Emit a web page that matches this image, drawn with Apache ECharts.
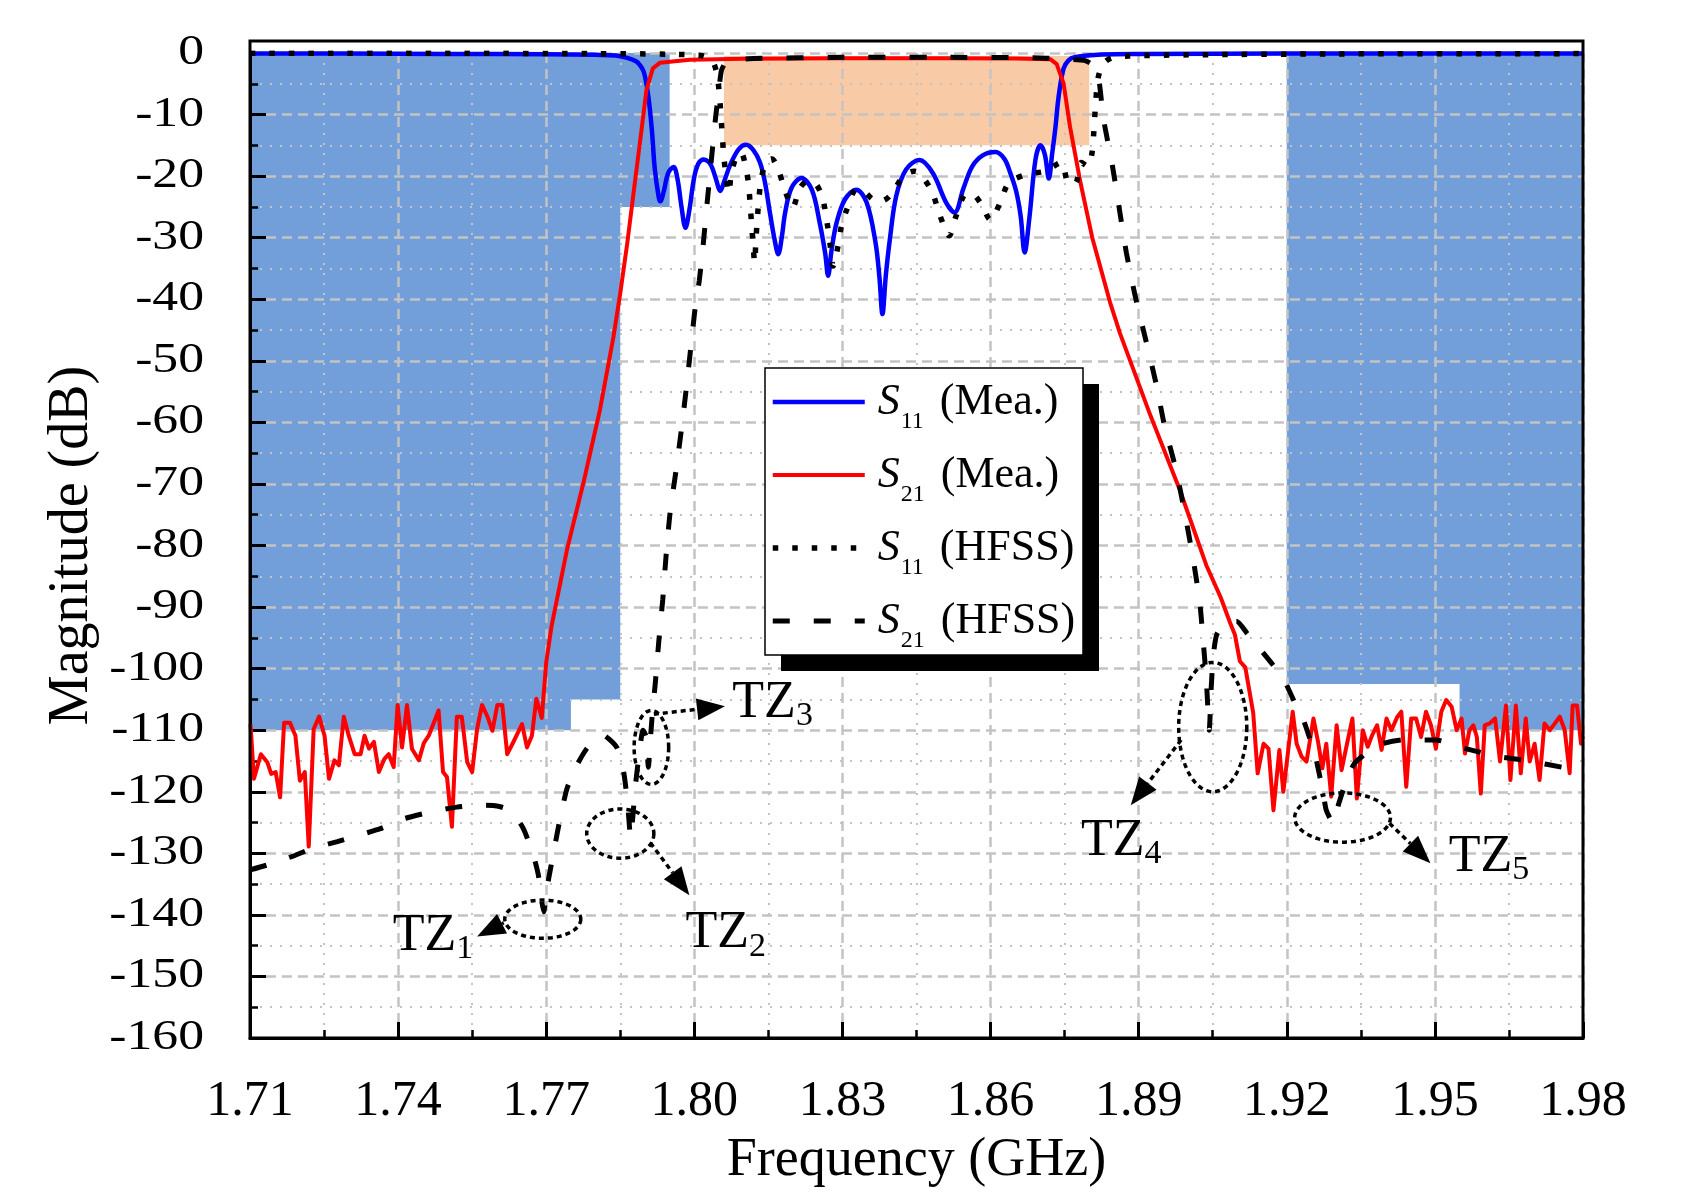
<!DOCTYPE html>
<html><head><meta charset="utf-8">
<script src="https://cdn.jsdelivr.net/npm/echarts@6/dist/echarts.min.js"></script>
<style>html,body{margin:0;padding:0;background:#fff}#c{width:1689px;height:1193px}</style>
</head><body><div id="c"></div>
<script>
// ---------------- data (GHz, dB) ----------------
const xTickLabels = ['1.71','1.74','1.77','1.80','1.83','1.86','1.89','1.92','1.95','1.98'];
const yTickValues = [0,-10,-20,-30,-40,-50,-60,-70,-80,-90,-100,-110,-120,-130,-140,-150,-160];
const yTickLabels = ['0','-10','-20','-30','-40','-50','-60','-70','-80','-90','-100','-110','-120','-130','-140','-150','-160'];

const s11Mea = [[1.71,-0.1],[1.73,-0.1],[1.75,-0.15],[1.77,-0.2],[1.78,-0.3],[1.784,-0.4],[1.786,-0.7],[1.7883,-1.4],[1.7895,-2.6],[1.790,-3.8],[1.7907,-7.1],[1.7914,-12.5],[1.792,-18.9],[1.7928,-23.5],[1.7931,-24.1],[1.7938,-22.5],[1.7947,-19.5],[1.7958,-18.5],[1.7966,-20.5],[1.7974,-25],[1.7982,-28.4],[1.799,-25.5],[1.7999,-20.5],[1.8008,-18],[1.8019,-17.3],[1.8029,-17.7],[1.8036,-18.6],[1.8045,-20.8],[1.8052,-22.4],[1.8062,-20.5],[1.8073,-18.1],[1.809,-15.6],[1.8105,-14.9],[1.812,-15.8],[1.8133,-17.8],[1.8143,-21],[1.8153,-25.9],[1.8163,-30.5],[1.8170,-32.7],[1.8177,-30],[1.8184,-25.9],[1.8197,-21.9],[1.8217,-20.3],[1.8238,-22.2],[1.8254,-27.6],[1.8265,-32.5],[1.8271,-36.2],[1.8278,-32],[1.8288,-27.6],[1.8305,-23.8],[1.8328,-22.2],[1.8349,-24.3],[1.8367,-30.8],[1.8375,-36.5],[1.8381,-42.4],[1.8388,-36],[1.8396,-30.3],[1.8409,-23.2],[1.8429,-18.9],[1.8456,-17.4],[1.8483,-19.5],[1.8510,-24.3],[1.8527,-25.9],[1.8545,-22],[1.8563,-18.4],[1.8585,-16.6],[1.8610,-16.1],[1.8628,-17.2],[1.8640,-19.5],[1.8652,-22.5],[1.8661,-26.5],[1.8669,-32.4],[1.8679,-26.5],[1.8691,-17.3],[1.8701,-15.0],[1.8710,-16.5],[1.8718,-20.4],[1.8725,-16.2],[1.8731,-12.4],[1.8738,-7],[1.8748,-2.5],[1.8758,-1.2],[1.877,-0.7],[1.8826,-0.25],[1.89,-0.15],[1.92,-0.1],[1.95,-0.1],[1.98,-0.1]];

const s21Mea = [[1.7101,-109],[1.7108,-117.9],[1.7122,-113.9],[1.7135,-115.2],[1.7143,-117.1],[1.7152,-116.8],[1.7161,-120.9],[1.7169,-108.8],[1.7181,-108.8],[1.7192,-110.9],[1.7201,-118.2],[1.7211,-116.8],[1.7219,-128.9],[1.7229,-109.8],[1.7240,-107.8],[1.7251,-110.9],[1.7260,-117.9],[1.7271,-114.9],[1.7280,-115.7],[1.7290,-107.8],[1.7300,-110.9],[1.7312,-113.9],[1.7324,-113.9],[1.7332,-110.9],[1.7341,-113.0],[1.7351,-111.9],[1.7361,-116.8],[1.7372,-114.7],[1.7381,-113.9],[1.7391,-116],[1.7399,-105.9],[1.7408,-112.8],[1.7418,-105.9],[1.7428,-113.0],[1.7442,-114.9],[1.7452,-112.1],[1.7462,-110.9],[1.7482,-106.8],[1.7491,-116.8],[1.7499,-117.6],[1.7509,-125.7],[1.7519,-107.8],[1.7529,-107.8],[1.7540,-115.2],[1.7550,-116.8],[1.7560,-109.8],[1.7570,-105.9],[1.7581,-107.8],[1.7591,-110.1],[1.7601,-105.9],[1.7611,-105.9],[1.7621,-113.9],[1.7633,-112.0],[1.7651,-109.0],[1.7661,-112.8],[1.7671,-110.9],[1.7680,-104.9],[1.7691,-108.0],[1.7700,-99],[1.7711,-93],[1.7742,-80.7],[1.7776,-69.6],[1.7809,-57.9],[1.7836,-46.2],[1.7850,-39],[1.7864,-31],[1.7876,-23.3],[1.7893,-12.5],[1.7903,-6],[1.7916,-2.5],[1.793,-1.6],[1.7991,-1.1],[1.81,-0.95],[1.83,-0.85],[1.85,-0.85],[1.865,-0.9],[1.8721,-1.0],[1.8734,-1.8],[1.8748,-5],[1.8761,-12],[1.8782,-21],[1.8806,-30],[1.8830,-37],[1.8842,-40.5],[1.8862,-45.5],[1.8922,-58.5],[1.8983,-70.9],[1.9037,-83.2],[1.9066,-88.4],[1.9085,-92.5],[1.9095,-94.5],[1.9105,-98.8],[1.9116,-99.8],[1.9132,-107.2],[1.9141,-117],[1.9153,-112.2],[1.9163,-113.0],[1.9173,-123.0],[1.9185,-113.2],[1.9193,-120.0],[1.9203,-113.2],[1.9212,-107.0],[1.9220,-112.2],[1.9230,-114.3],[1.9240,-115.1],[1.9254,-108.1],[1.9264,-112.2],[1.9272,-116.2],[1.9280,-112.2],[1.9290,-120.8],[1.9301,-109.2],[1.9311,-116.5],[1.9322,-112.2],[1.9333,-108.1],[1.9342,-121.1],[1.9354,-110.0],[1.9364,-112.7],[1.9373,-110.8],[1.9383,-109.2],[1.9392,-113.2],[1.9402,-108.1],[1.9412,-110.0],[1.9424,-107.8],[1.9432,-107.0],[1.9442,-119.2],[1.9452,-108.1],[1.9462,-108.1],[1.9472,-111.1],[1.9482,-107.0],[1.9492,-109.2],[1.9502,-113.0],[1.9513,-107.0],[1.9523,-105.1],[1.9534,-106.2],[1.9544,-110.0],[1.9554,-108.1],[1.9561,-113.8],[1.9570,-110.0],[1.9578,-109.2],[1.9585,-111.1],[1.9593,-120.3],[1.9601,-109.2],[1.9611,-108.9],[1.9622,-108.1],[1.9632,-115.1],[1.9644,-106.0],[1.9653,-118.1],[1.9664,-106.0],[1.9674,-117.0],[1.9684,-108.1],[1.9692,-115.1],[1.9702,-112.2],[1.9712,-118.1],[1.9722,-108.9],[1.9733,-110.0],[1.9743,-108.9],[1.9753,-107.8],[1.9763,-110.0],[1.9773,-117.0],[1.9779,-106.0],[1.9788,-106.0],[1.9796,-112.2],[1.98,-111]];

const s11Hfss = [[1.71,-0.05],[1.75,-0.05],[1.78,-0.1],[1.795,-0.2],[1.8012,-0.4],[1.803,-0.9],[1.804,-1.8],[1.8047,-4],[1.8052,-8],[1.8056,-12.7],[1.8059,-16],[1.8063,-19.2],[1.8070,-22.7],[1.8075,-19.5],[1.8087,-16.5],[1.8095,-16.3],[1.8103,-18.1],[1.8110,-21.4],[1.8113,-24.6],[1.8116,-27.8],[1.8119,-31],[1.8122,-34],[1.8125,-30],[1.8128,-26.5],[1.8131,-23.5],[1.8135,-20.8],[1.8145,-17.7],[1.8157,-17.2],[1.8170,-19],[1.8184,-22.4],[1.8199,-25.1],[1.8214,-21.9],[1.8230,-20.8],[1.8244,-21.1],[1.8255,-22.5],[1.8262,-24.3],[1.8269,-27.6],[1.8275,-31.1],[1.8281,-34.6],[1.8291,-31.4],[1.8298,-28.1],[1.8309,-25.4],[1.8328,-22.2],[1.8345,-22.6],[1.8362,-23.8],[1.838,-24],[1.8396,-23.2],[1.8424,-20],[1.8445,-19.2],[1.8456,-19.5],[1.8481,-22.5],[1.8498,-26.5],[1.8516,-29.7],[1.8530,-26.5],[1.8546,-23.2],[1.8562,-22.9],[1.858,-24.4],[1.86,-27.1],[1.862,-24.2],[1.8637,-21.1],[1.8674,-19.7],[1.871,-19.2],[1.8743,-17.8],[1.8758,-21.1],[1.8772,-21.1],[1.8784,-17.8],[1.8797,-18.4],[1.8805,-16.5],[1.8809,-13],[1.8813,-8],[1.8818,-4],[1.8828,-1.8],[1.8845,-0.8],[1.888,-0.5],[1.90,-0.3],[1.93,-0.15],[1.98,-0.1]];

const s21Hfss = [[1.71,-132.7],[1.7135,-131.9],[1.7189,-130.4],[1.7223,-129.3],[1.7277,-128.1],[1.7310,-127.3],[1.7364,-126],[1.7411,-124.4],[1.7465,-123.3],[1.7519,-122.5],[1.7566,-122.2],[1.7600,-122.3],[1.7620,-122.8],[1.7640,-124.2],[1.7655,-126.2],[1.7674,-130.3],[1.7684,-133.5],[1.7691,-137.8],[1.7695,-139.5],[1.7700,-136.5],[1.7705,-134.1],[1.7715,-129.8],[1.7728,-124.4],[1.7742,-119.5],[1.7762,-115.7],[1.7782,-113],[1.7800,-111.5],[1.7815,-110.8],[1.7828,-111.5],[1.7843,-112.8],[1.7853,-115],[1.7860,-118.5],[1.7866,-123],[1.7871,-127.5],[1.7876,-123.5],[1.7880,-119.5],[1.7888,-114],[1.7896,-110],[1.7902,-111],[1.7907,-116],[1.7910,-112.5],[1.7915,-107.3],[1.7921,-102.3],[1.7928,-95.6],[1.7936,-88.8],[1.7943,-81.4],[1.7951,-74.6],[1.7964,-67.2],[1.7975,-60.4],[1.7985,-53.6],[1.7995,-46.2],[1.8003,-40.5],[1.8010,-37],[1.8017,-31.9],[1.8026,-24.3],[1.8034,-17.8],[1.8043,-10.5],[1.8049,-6.5],[1.8055,-2.8],[1.8065,-1.4],[1.8080,-1.1],[1.812,-0.9],[1.83,-0.7],[1.85,-0.7],[1.87,-0.8],[1.875,-1.0],[1.879,-1.2],[1.8808,-2],[1.8818,-3.5],[1.8829,-10.8],[1.8847,-18.4],[1.8861,-25.4],[1.8875,-32.4],[1.8893,-39.5],[1.8915,-46.8],[1.8935,-53.6],[1.8952,-60.4],[1.8976,-67.8],[1.8993,-74.6],[1.9010,-82],[1.9024,-89.4],[1.9030,-94.9],[1.9037,-101.7],[1.9043,-110],[1.9047,-103],[1.9051,-98],[1.9058,-94.5],[1.9075,-92.5],[1.9098,-92.3],[1.912,-94.3],[1.917,-99.2],[1.9193,-101.6],[1.922,-106.2],[1.9234,-108.4],[1.9254,-113.2],[1.926,-114.9],[1.9274,-120.3],[1.928,-123],[1.9294,-125.1],[1.9305,-122],[1.9321,-118.1],[1.9337,-115.4],[1.9365,-113.5],[1.9394,-112.2],[1.9434,-111.6],[1.9502,-111.6],[1.9562,-113],[1.963,-114.3],[1.9682,-114.9],[1.977,-116.2],[1.98,-116.6]];

// spec masks (GHz, dB)
const maskLeft  = [[1.71,0],[1.795,0],[1.795,-25],[1.785,-25],[1.785,-105],[1.775,-105],[1.775,-110],[1.71,-110]];
const maskRight = [[1.92,0],[1.98,0],[1.98,-110],[1.955,-110],[1.955,-102.5],[1.92,-102.5]];
const passBand  = [[1.806,-0.5],[1.88,-0.5],[1.88,-15],[1.806,-15]];

// transmission-zero annotations (GHz, dB)
const tzSubs      = ['1','2','3','4','5'];
const tzCenters   = [[1.7693,-140.7],[1.785,-126.8],[1.7913,-112.8],[1.905,-109.5],[1.9313,-124.2]];
const tzRadii     = [[0.0077,3.1],[0.0068,4.0],[0.0035,6.0],[0.0069,10.5],[0.0097,4.0]];
const tzArrowFrom = [[1.7614,-141.3],[1.7911,-128.3],[1.7918,-107.4],[1.8986,-111.6],[1.9408,-125.1]];
const tzArrowTo   = [[1.7560,-143.5],[1.7990,-136.8],[1.8062,-106.1],[1.8884,-122.2],[1.9491,-131.6]];
const tzLabelPos  = [[1.7389,-146.4],[1.7982,-146.0],[1.8077,-108.6],[1.8783,-131.0],[1.9528,-133.6]];

// ---------------- styles ----------------
const SERIF = "'Liberation Serif','Times New Roman',serif";
const maskPolys = [maskLeft, maskRight, passBand];
const maskFill = ['#729fd9','#729fd9','#f8cba6'];
const legendBox = {x:765, y:368, w:318, h:287, shadow:16};

const chart = echarts.init(document.getElementById('c'));

function renderMask(params, api) {
  const i = api.value(2);
  return {type:'polygon', shape:{points: maskPolys[i].map(p => api.coord(p))},
          style:{fill: maskFill[i], stroke:'none'}};
}

function renderYLabel(params, api) {
  const i = api.value(2);
  const p = api.coord([api.value(0), api.value(1)]);
  return {type:'text', x: p[0] - 46, y: p[1], scaleX: 1.23, scaleY: 1,
    style:{text: yTickLabels[i], align:'right', verticalAlign:'middle',
           font: '42px ' + SERIF, fill:'#000'}};
}

function renderTZ(params, api) {
  const i = api.value(2);
  const c = api.coord(tzCenters[i]);
  const sz = api.size(tzRadii[i]);
  const pts = [];
  for (let k = 0; k < 90; k++) {
    const a = k / 90 * Math.PI * 2;
    pts.push([c[0] + sz[0] * Math.cos(a), c[1] + sz[1] * Math.sin(a)]);
  }
  const p0 = api.coord(tzArrowFrom[i]), p1 = api.coord(tzArrowTo[i]);
  const dx = p1[0]-p0[0], dy = p1[1]-p0[1], L = Math.hypot(dx, dy);
  const ux = dx/L, uy = dy/L, hl = 28, hw = 11;
  const bx = p1[0]-ux*hl, by = p1[1]-uy*hl;
  const lp = api.coord(tzLabelPos[i]);
  return {type:'group', children:[
    {type:'polygon', shape:{points: pts}, style:{fill:'none', stroke:'#000', lineWidth:3.5, lineDash:[5,4]}},
    {type:'line', shape:{x1:p0[0], y1:p0[1], x2:bx, y2:by}, style:{stroke:'#000', lineWidth:3.5, lineDash:[5,4]}},
    {type:'polygon', shape:{points:[[p1[0],p1[1]],[bx-uy*hw,by+ux*hw],[bx+uy*hw,by-ux*hw]]}, style:{fill:'#000'}},
    {type:'text', x: lp[0], y: lp[1]-44, style:{
      text: '{a|TZ}{b|' + tzSubs[i] + '}', align:'left', verticalAlign:'top',
      rich:{
        a:{fontFamily:SERIF, fontSize:52, lineHeight:52, verticalAlign:'top', fill:'#000'},
        b:{fontFamily:SERIF, fontSize:34, lineHeight:34, verticalAlign:'top', padding:[22,0,0,0], fill:'#000'}
      }}}
  ]};
}

const majorGrid = {show:true, lineStyle:{color:'#c3c3c3', width:2.5, type:[10,6]}};
const minorGrid = {show:true, lineStyle:{color:'#c3c3c3', width:2, type:[2,8]}};

const option = {
  animation: false,
  backgroundColor: '#fff',
  grid: {left:250, right:106, top:53, bottom:151, containLabel:false},
  xAxis: [{
    type:'value', min:1.71, max:1.98, interval:0.03, position:'bottom',
    axisLine:{show:true, onZero:false, lineStyle:{color:'#000', width:3}},
    axisTick:{show:true, inside:true, length:16, lineStyle:{color:'#000', width:3}},
    minorTick:{show:true, splitNumber:2, length:8, lineStyle:{color:'#000', width:2.5}},
    splitLine: majorGrid, minorSplitLine: minorGrid,
    axisLabel:{fontFamily:SERIF, fontSize:50, color:'#000', margin:39,
      formatter: v => xTickLabels[Math.round((v-1.71)/0.03)]},
    name:'Frequency (GHz)', nameLocation:'middle', nameGap:96,
    nameTextStyle:{fontFamily:SERIF, fontSize:54, color:'#000'}
  }],
  yAxis: [{
    type:'value', min:-160, max:0, interval:10, position:'left',
    axisLine:{show:true, onZero:false, lineStyle:{color:'#000', width:3}},
    axisTick:{show:true, inside:true, length:16, lineStyle:{color:'#000', width:3}},
    minorTick:{show:true, splitNumber:2, length:8, lineStyle:{color:'#000', width:2.5}},
    splitLine: majorGrid, minorSplitLine: minorGrid,
    axisLabel:{show:false},
    name:'Magnitude (dB)', nameLocation:'middle', nameGap:150,
    nameTextStyle:{fontFamily:SERIF, fontSize:56, color:'#000'}
  }],
  legend: {
    show:true, orient:'vertical', left:765, top:380, z:30,
    data:['S11 (Mea.)','S21 (Mea.)','S11 (HFSS)','S21 (HFSS)'],
    itemWidth:92, itemHeight:20, itemGap:19,
    padding:[0,18,2,5],
    backgroundColor:'transparent', borderWidth:0,
    itemStyle:{color:'rgba(0,0,0,0)', borderWidth:0, opacity:0},
    lineStyle:{width:'inherit'},
    formatter: name => {
      const m = name.match(/^S(\d+) (.*)$/);
      return '{s|S}{sub|' + m[1] + '}{t|' + m[2] + '}';
    },
    textStyle:{fontFamily:SERIF, color:'#000', rich:{
      s:{fontFamily:SERIF, fontStyle:'italic', fontSize:44, lineHeight:44, verticalAlign:'top', padding:[0,0,0,8], color:'#000'},
      sub:{fontFamily:SERIF, fontSize:24, lineHeight:24, verticalAlign:'top', padding:[30,0,0,1], color:'#000'},
      t:{fontFamily:SERIF, fontSize:44, lineHeight:44, verticalAlign:'top', padding:[0,0,0,16], color:'#000'}
    }}
  },
  series: [
    {type:'custom', name:'masks', coordinateSystem:'cartesian2d', z:-1, silent:true,
     renderItem: renderMask, encode:{x:0, y:1},
     data: maskPolys.map((p, i) => [p[0][0], p[0][1], i])},
    {type:'custom', name:'ylabels', coordinateSystem:'cartesian2d', z:5, silent:true, clip:false,
     renderItem: renderYLabel, encode:{x:0, y:1},
     data: yTickValues.map((v, i) => [1.71, v, i])},
    {type:'line', name:'S11 (Mea.)', data:s11Mea, symbol:'none', smooth:0.35,
     lineStyle:{color:'#0000ff', width:4.5}, itemStyle:{color:'#0000ff'}, z:3},
    {type:'line', name:'S21 (Mea.)', data:s21Mea, symbol:'none', smooth:false,
     lineStyle:{color:'#ff0000', width:4, join:'round'}, itemStyle:{color:'#ff0000'}, z:3},
    {type:'line', name:'S11 (HFSS)', data:s11Hfss, symbol:'none', smooth:0.3,
     lineStyle:{color:'#000', width:5.5, type:[5.5,14], cap:'butt'}, itemStyle:{color:'#000'}, z:4},
    {type:'line', name:'S21 (HFSS)', data:s21Hfss, symbol:'none', smooth:0.2,
     lineStyle:{color:'#000', width:5, type:[17,24], cap:'butt'}, itemStyle:{color:'#000'}, z:4},
    {type:'custom', name:'tz', coordinateSystem:'cartesian2d', z:6, silent:true,
     renderItem: renderTZ, encode:{x:0, y:1},
     data: tzCenters.map((c, i) => [c[0], c[1], i])}
  ]
};
chart.setOption(option);

// outer frame (extends slightly above 0 dB like the original plot box) and legend box
const pTL = chart.convertToPixel({xAxisIndex:0, yAxisIndex:0}, [1.71, 0]);
const pBR = chart.convertToPixel({xAxisIndex:0, yAxisIndex:0}, [1.98, -160]);
chart.setOption({graphic:[
  {type:'rect', silent:true, z:25, shape:{x:legendBox.x+legendBox.shadow, y:legendBox.y+legendBox.shadow, width:legendBox.w, height:legendBox.h}, style:{fill:'#000'}},
  {type:'rect', silent:true, z:26, shape:{x:legendBox.x, y:legendBox.y, width:legendBox.w, height:legendBox.h}, style:{fill:'#fff', stroke:'#000', lineWidth:1.5}},
  {type:'rect', silent:true, z:10,
   shape:{x:pTL[0], y:pTL[1]-12, width:pBR[0]-pTL[0], height:pBR[1]-pTL[1]+12},
   style:{fill:'none', stroke:'#000', lineWidth:3}}]});
</script>
</body></html>
